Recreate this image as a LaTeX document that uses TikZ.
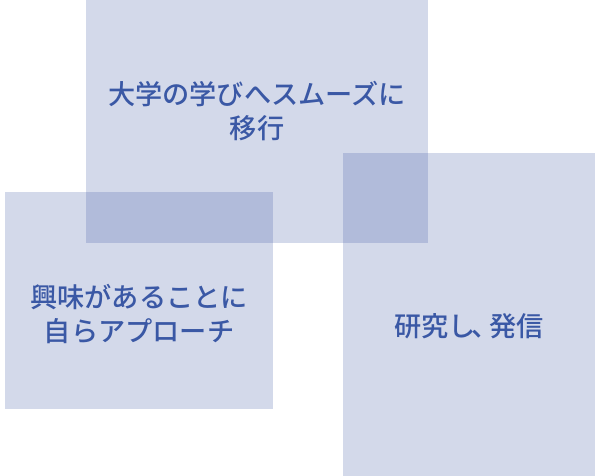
\documentclass[tikz,border=0pt]{standalone}
\usepackage{fontspec}
\newfontfamily\jpfont{Noto Sans CJK JP Medium}
\definecolor{panel}{RGB}{55,82,160}
\definecolor{txt}{RGB}{58,88,165}
\begin{document}
\begin{tikzpicture}[x=1pt,y=-1pt,
  panelbox/.style={fill=panel,fill opacity=0.22,draw=none,inner sep=0pt,outer sep=0pt,anchor=north west},
  label/.style={text=txt,font=\jpfont\fontsize{27.2}{34}\selectfont,align=center,inner sep=0pt}]
\useasboundingbox (0,0) rectangle (600,476);
\node[panelbox,minimum width=342pt,minimum height=243pt] (top) at (86,0) {};
\node[panelbox,minimum width=268pt,minimum height=217pt] (left) at (5,192) {};
\node[panelbox,minimum width=252pt,minimum height=323pt] (right) at (343,153) {};
\node[label] (toptext) at (257,111) {大学の学びへスムーズに\\移行};
\node[label] (lefttext) at (139,314) {興味があることに\\自らアプローチ};
\node[label] (righttext) at (469,326) {研究し\kern-0.15em、\kern-0.35em発信};
\end{tikzpicture}
\end{document}
